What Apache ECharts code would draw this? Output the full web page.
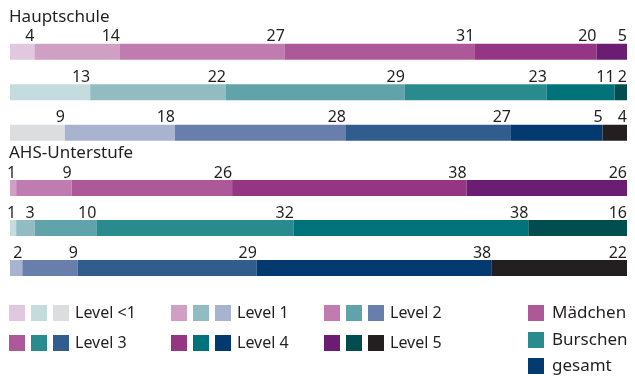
<!DOCTYPE html>
<html><head><meta charset="utf-8">
<script src="https://cdn.jsdelivr.net/npm/echarts@6/dist/echarts.min.js"></script>
<style>html,body{margin:0;padding:0;background:#fff}#c{width:635px;height:376px}</style>
</head><body><div id="c"></div>
<script>
// ---- data ----
const levels = ['Level <1', 'Level 1', 'Level 2', 'Level 3', 'Level 4', 'Level 5'];
const groups = ['Hauptschule', 'AHS-Unterstufe'];
const rows = ['Mädchen', 'Burschen', 'gesamt'];
// values per level (<1,1,2,3,4,5)
const hsMaedchen = [4, 14, 27, 31, 20, 5];
const hsBurschen = [13, 22, 29, 23, 11, 2];
const hsGesamt = [9, 18, 28, 27, 15, 4];
const ahsMaedchen = [0, 1, 9, 26, 38, 26];
const ahsBurschen = [1, 3, 10, 32, 38, 16];
const ahsGesamt = [0, 2, 9, 29, 38, 22];
// printed labels as they appear in the source (one differs from its bar width)
const hsGesamtPrinted = ['9', '18', '28', '27', '5', '4'];

const colMaedchen = ['#e2c8df', '#cf9fc4', '#c07cb0', '#ad5899', '#943683', '#6b1c73'];
const colBurschen = ['#c4dcdd', '#91bcc1', '#61a3aa', '#2a8b8f', '#00737a', '#004d4f'];
const colGesamt = ['#dcdddf', '#a8b4cf', '#687fab', '#315c8e', '#023a70', '#231f20'];
const rowLegendColors = ['#ad5899', '#2a8b8f', '#023a70'];

const groupData = [
  [hsMaedchen, hsBurschen, hsGesamt],
  [ahsMaedchen, ahsBurschen, ahsGesamt]
];
const groupLabels = [
  [hsMaedchen.map(String), hsBurschen.map(String), hsGesamtPrinted],
  [ahsMaedchen.map(String), ahsBurschen.map(String), ahsGesamt.map(String)]
];
const rowColors = [colMaedchen, colBurschen, colGesamt];

// ---- build ----
const FONT = '"Noto Sans", sans-serif';
const TXT = '#231f20';
const grids = [
  { left: 10, right: 8, top: 31.5, height: 121.5 },
  { left: 10, right: 8, top: 168, height: 120 }
];
const xAxes = grids.map((g, i) => ({ type: 'value', gridIndex: i, min: 0, max: 100, show: false }));
const yAxes = grids.map((g, i) => ({ type: 'category', gridIndex: i, data: rows, inverse: true, show: false }));

const series = [];
groupData.forEach((gd, gi) => {
  const sums = gd.map(arr => arr.reduce((a, b) => a + b, 0));
  levels.forEach((lv, li) => {
    series.push({
      type: 'bar',
      name: lv,
      xAxisIndex: gi, yAxisIndex: gi,
      stack: 'g' + gi,
      barWidth: 16,
      data: gd.map((arr, ri) => ({
        value: arr[li] / sums[ri] * 100,
        itemStyle: { color: rowColors[ri][li] },
        label: {
          show: arr[li] > 0,
          formatter: groupLabels[gi][ri][li]
        }
      })),
      label: {
        position: ['100%', 0],
        align: 'right',
        verticalAlign: 'bottom',
        offset: [0, 1],
        color: TXT,
        fontFamily: FONT,
        fontSize: 16
      },
      silent: true,
      animation: false
    });
  });
});

// legend built from the level list / colors
const graphic = [];
graphic.push({ type: 'text', left: 9, top: 9, style: { text: groups[0], font: '17px ' + FONT, fill: TXT } });
graphic.push({ type: 'text', left: 9, top: 145, style: { text: groups[1], font: '17px ' + FONT, fill: TXT } });
const colX = [9, 171, 324];
const rowY = [305, 335];
levels.forEach((lv, li) => {
  const x = colX[li % 3], y = rowY[Math.floor(li / 3)];
  rowColors.forEach((cols, ri) => {
    graphic.push({ type: 'rect', shape: { x: x + ri * 22, y: y, width: 16, height: 16 }, style: { fill: cols[li] } });
  });
  graphic.push({ type: 'text', x: x + 66, y: y + 8, style: { text: lv, font: '16px ' + FONT, fill: TXT, verticalAlign: 'middle' } });
});
const gY = [305, 332, 358];
rows.forEach((r, ri) => {
  graphic.push({ type: 'rect', shape: { x: 528, y: gY[ri], width: 16, height: 16 }, style: { fill: rowLegendColors[ri] } });
  graphic.push({ type: 'text', x: 552, y: gY[ri] + 8, style: { text: r, font: '17px ' + FONT, fill: TXT, verticalAlign: 'middle' } });
});

const chart = echarts.init(document.getElementById('c'), null, { renderer: 'canvas' });
chart.setOption({
  animation: false,
  grid: grids,
  xAxis: xAxes,
  yAxis: yAxes,
  series: series,
  graphic: graphic
});
</script></body></html>
